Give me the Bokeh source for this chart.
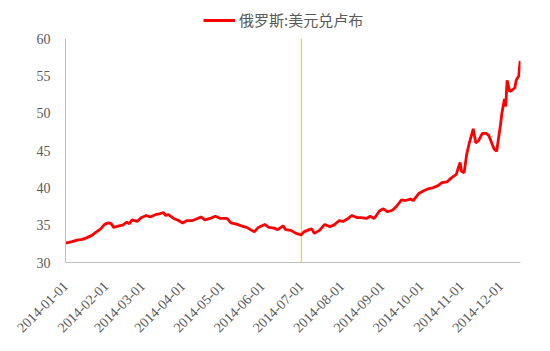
import math
import pandas as pd
from bokeh.plotting import figure
from bokeh.models import (FixedTicker, DatetimeTickFormatter, Legend, LegendItem,
                          ColumnDataSource, Range1d)
from bokeh.embed import file_html
from bokeh.resources import INLINE

series_name = "俄罗斯:美元兑卢布"

dates = [
    "2014-01-01", "2014-01-06", "2014-01-10", "2014-01-14", "2014-01-17", "2014-01-21",
    "2014-01-24", "2014-01-28", "2014-01-31", "2014-02-03", "2014-02-05", "2014-02-07",
    "2014-02-11", "2014-02-14", "2014-02-17", "2014-02-19", "2014-02-21", "2014-02-25",
    "2014-02-28", "2014-03-04", "2014-03-07", "2014-03-11", "2014-03-14", "2014-03-17",
    "2014-03-19", "2014-03-21", "2014-03-25", "2014-03-28", "2014-04-01", "2014-04-04",
    "2014-04-08", "2014-04-11", "2014-04-15", "2014-04-18", "2014-04-22", "2014-04-26",
    "2014-04-30", "2014-05-05", "2014-05-08", "2014-05-13", "2014-05-16", "2014-05-20",
    "2014-05-23", "2014-05-26", "2014-05-29", "2014-06-03", "2014-06-06", "2014-06-10",
    "2014-06-13", "2014-06-17", "2014-06-19", "2014-06-23", "2014-06-27", "2014-07-01",
    "2014-07-03", "2014-07-07", "2014-07-09", "2014-07-11", "2014-07-15", "2014-07-19",
    "2014-07-23", "2014-07-26", "2014-07-30", "2014-08-02", "2014-08-06", "2014-08-09",
    "2014-08-13", "2014-08-16", "2014-08-20", "2014-08-23", "2014-08-26", "2014-08-30",
    "2014-09-02", "2014-09-05", "2014-09-09", "2014-09-12", "2014-09-16", "2014-09-19",
    "2014-09-23", "2014-09-25", "2014-09-29", "2014-10-03", "2014-10-07", "2014-10-10",
    "2014-10-14", "2014-10-17", "2014-10-21", "2014-10-24", "2014-10-28", "2014-10-30",
    "2014-10-31", "2014-11-01", "2014-11-03", "2014-11-05", "2014-11-07", "2014-11-10",
    "2014-11-12", "2014-11-14", "2014-11-17", "2014-11-20", "2014-11-22", "2014-11-24",
    "2014-11-26", "2014-11-28", "2014-12-01", "2014-12-02", "2014-12-04", "2014-12-05",
    "2014-12-06", "2014-12-08", "2014-12-10", "2014-12-12", "2014-12-13", "2014-12-15",
    "2014-12-16",
]
rates = [
    32.6, 32.8, 33.0, 33.1, 33.3, 33.6,
    34.0, 34.5, 35.1, 35.3, 35.2, 34.7,
    34.9, 35.0, 35.4, 35.2, 35.7, 35.5,
    36.0, 36.3, 36.1, 36.4, 36.5, 36.7,
    36.3, 36.4, 35.9, 35.7, 35.3, 35.6,
    35.6, 35.8, 36.1, 35.7, 35.9, 36.2,
    35.9, 35.9, 35.3, 35.1, 34.9, 34.7,
    34.4, 34.1, 34.7, 35.1, 34.7, 34.6,
    34.4, 34.9, 34.4, 34.3, 33.9, 33.7,
    34.1, 34.4, 34.5, 33.9, 34.3, 35.1,
    34.8, 35.0, 35.6, 35.5, 35.9, 36.3,
    36.0, 36.0, 35.9, 36.2, 35.9, 36.9,
    37.2, 36.8, 37.0, 37.5, 38.4, 38.3,
    38.5, 38.3, 39.2, 39.6, 39.9, 40.0,
    40.3, 40.7, 40.8, 41.3, 41.8, 42.9,
    43.4, 42.2, 42.0, 44.5, 46.0, 47.9,
    46.0, 46.3, 47.3, 47.3, 47.0, 46.1,
    45.2, 44.9, 48.5, 50.0, 51.9, 50.9,
    54.4, 52.9, 53.1, 53.4, 54.4, 55.0,
    57.0,
]
tick_dates = ["2014-01-01", "2014-02-01", "2014-03-01", "2014-04-01", "2014-05-01",
              "2014-06-01", "2014-07-01", "2014-08-01", "2014-09-01", "2014-10-01",
              "2014-11-01", "2014-12-01"]
y_ticks = [30, 35, 40, 45, 50, 55, 60]
marker_date = "2014-07-01"

def ms(d):
    return pd.Timestamp(d).value / 1e6

y_min, y_max = y_ticks[0], y_ticks[-1]
# frame is extended above the 60 line to leave room for the legend (px: 252 frame / 224 axis)
y_top = y_min + (y_max - y_min) * 252.0 / 224.0

src = ColumnDataSource(dict(x=pd.to_datetime(dates), y=rates))

p = figure(width=550, height=351, x_axis_type="datetime", output_backend="svg",
           toolbar_location=None,
           x_range=Range1d(ms("2014-01-01"), ms("2014-12-16") + 0.3 * 86400000),
           y_range=Range1d(y_min, y_top),
           min_border_left=65, min_border_right=30, min_border_top=10, min_border_bottom=89)
p.outline_line_color = None
p.grid.visible = False
p.background_fill_color = "white"
p.border_fill_color = "white"

mx = pd.to_datetime([marker_date, marker_date])
p.line(x=mx, y=[y_min - 0.5, y_max], line_color="#FFC000", line_width=1)

r = p.line("x", "y", source=src, line_color="#FF0000", line_width=2.8)

p.yaxis.ticker = FixedTicker(ticks=y_ticks)
p.yaxis.bounds = (y_min, y_max)
p.xaxis.ticker = FixedTicker(ticks=[ms(d) for d in tick_dates])
fmt = "%Y-%m-%d"
p.xaxis.formatter = DatetimeTickFormatter(days=fmt, months=fmt, years=fmt, hours=fmt)
p.xaxis.major_label_orientation = math.pi / 4

for ax in (p.xaxis, p.yaxis):
    ax.axis_line_color = "#BFBFBF"
    ax.axis_line_width = 1
    ax.major_tick_line_color = None
    ax.minor_tick_line_color = None
    ax.major_label_text_font = "Liberation Serif"
    ax.major_label_text_color = "#595959"
p.yaxis.major_label_text_font_size = "14px"
p.xaxis.major_label_text_font_size = "14px"
p.yaxis.major_label_standoff = 9
p.xaxis.major_label_standoff = 15

legend = Legend(items=[LegendItem(label=series_name, renderers=[r])],
                location=(138, 232), orientation="horizontal",
                border_line_color=None, background_fill_alpha=0,
                padding=0, margin=0, spacing=0,
                glyph_width=32, label_standoff=4,
                label_text_font="Noto Sans CJK SC", label_text_font_size="15px",
                label_text_color="#595959")
p.add_layout(legend, "center")

open("out.html", "w").write(file_html(p, INLINE))
